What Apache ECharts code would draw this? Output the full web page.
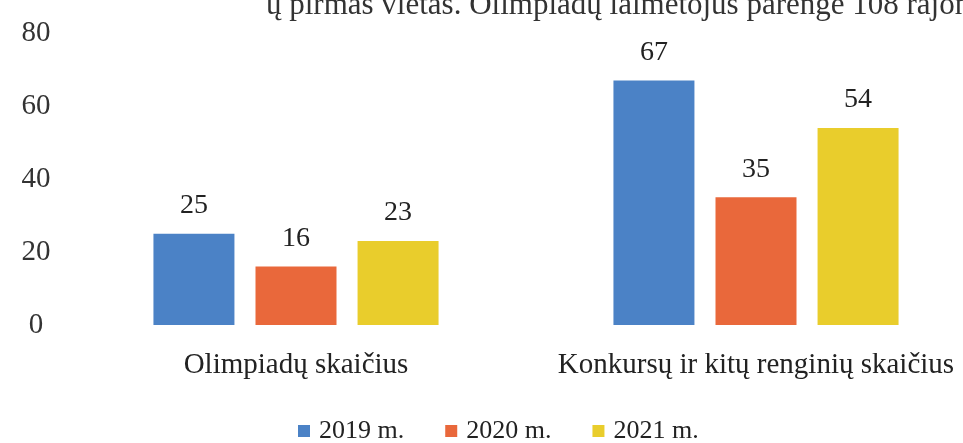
<!DOCTYPE html>
<html><head><meta charset="utf-8">
<script src="https://cdn.jsdelivr.net/npm/echarts@6/dist/echarts.min.js"></script>
<style>html,body{margin:0;padding:0;background:#fff;overflow:hidden}#c{width:1000px;height:443px}</style>
</head><body><div id="c"></div>
<script>
const categories = ["Olimpiadų skaičius", "Konkursų ir kitų renginių skaičius"];
const seriesNames = ["2019 m.", "2020 m.", "2021 m."];
const values2019 = [25, 67];
const values2020 = [16, 35];
const values2021 = [23, 54];
const colors = ["#4b82c6", "#e9683b", "#e9cd2c"];
const yTicks = [0, 20, 40, 60, 80];
const topText = "ų pirmas vietas. Olimpiadų laimėtojus parengė 108 rajono";

const font = "'Liberation Serif', 'DejaVu Serif', serif";
const chart = echarts.init(document.getElementById('c'));
const data = [values2019, values2020, values2021];
chart.setOption({
  backgroundColor: '#fff',
  textStyle: { fontFamily: font, color: '#222' },
  graphic: [{
    type: 'text', left: 266, top: -10,
    style: { text: topText, font: "31px " + font, fill: '#333' }
  }],
  legend: {
    data: seriesNames, top: 413, left: 293,
    icon: 'rect', itemWidth: 12, itemHeight: 12, itemGap: 41,
    textStyle: { fontFamily: font, fontSize: 26, color: '#222', padding: [0, 0, 0, 4] }
  },
  grid: { left: 66, top: 33, width: 920, height: 292 },
  xAxis: {
    type: 'category', data: categories,
    axisLine: { show: false }, axisTick: { show: false },
    axisLabel: { interval: 0, fontFamily: font, fontSize: 29, color: '#222', margin: 26 }
  },
  yAxis: {
    type: 'value', min: 0, max: 80, interval: 20,
    splitLine: { show: false }, axisLine: { show: false }, axisTick: { show: false },
    axisLabel: { fontFamily: font, fontSize: 29, color: '#333', margin: 30, align: 'center',
      formatter: v => yTicks.includes(v) ? String(v) : '' }
  },
  series: seriesNames.map((n, i) => ({
    name: n, type: 'bar', data: data[i], barWidth: 81, barGap: '26%',
    itemStyle: { color: colors[i] },
    label: { show: true, position: 'top', distance: 14, fontFamily: font, fontSize: 28, color: '#222' }
  }))
});
</script></body></html>
